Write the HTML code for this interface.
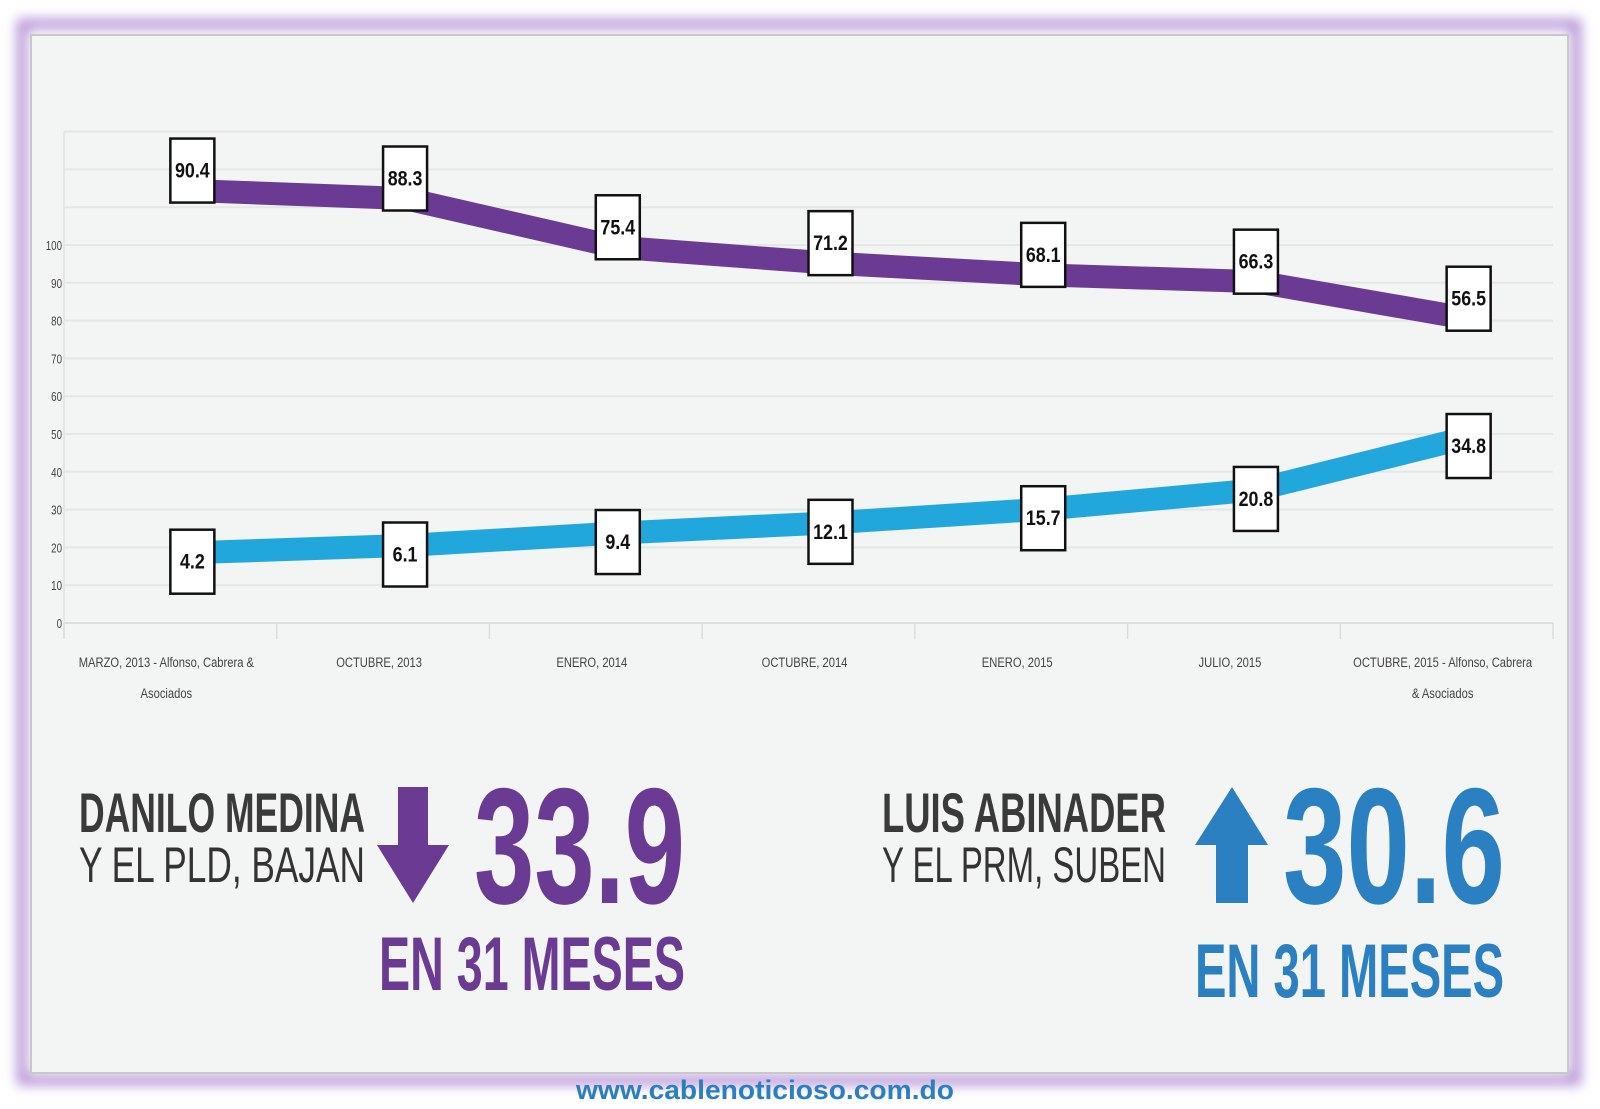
<!DOCTYPE html>
<html><head><meta charset="utf-8"><style>
html,body{margin:0;padding:0;background:#fff;}
svg{display:block;}
text{font-family:"Liberation Sans",sans-serif;}
</style></head><body>
<svg id="chart" width="1600" height="1109" viewBox="0 0 1600 1109">
<defs>
<filter id="glow" x="-5%" y="-5%" width="110%" height="110%"><feGaussianBlur stdDeviation="6"/></filter>
</defs>
<rect x="22" y="24" width="1554" height="1056" fill="none" stroke="#b48fd6" stroke-width="10" filter="url(#glow)"/>
<rect x="31" y="35" width="1537" height="1038" fill="#f3f4f4" stroke="#c8c8c8" stroke-width="2"/>
<g id="grid"></g>
<g id="yticks"></g>
<g id="xticks"></g>
<g id="series"></g>
<g id="labels"></g>

<g>
<text x="79" y="832" font-size="56" font-weight="bold" fill="#3a3a3a" textLength="286" lengthAdjust="spacingAndGlyphs">DANILO MEDINA</text>
<text x="79" y="882" font-size="50" fill="#333" textLength="286" lengthAdjust="spacingAndGlyphs">Y EL PLD, BAJAN</text>
<path d="M398 787 H428 V845 H449 L413 903 L377 845 H398 Z" fill="#6b3a93"/>
<text x="474" y="903" font-size="165" font-weight="bold" fill="#6b3a93" textLength="211" lengthAdjust="spacingAndGlyphs">33.9</text>
<text x="379" y="990" font-size="76" font-weight="bold" fill="#6b3a93" textLength="306" lengthAdjust="spacingAndGlyphs">EN 31 MESES</text>
</g>
<g>
<text x="882" y="832" font-size="56" font-weight="bold" fill="#3a3a3a" textLength="284" lengthAdjust="spacingAndGlyphs">LUIS ABINADER</text>
<text x="882" y="882" font-size="50" fill="#333" textLength="284" lengthAdjust="spacingAndGlyphs">Y EL PRM, SUBEN</text>
<path d="M1216 903 H1248 V845 H1268 L1232 787 L1195 845 H1216 Z" fill="#2a80c0"/>
<text x="1283" y="903" font-size="165" font-weight="bold" fill="#2a80c0" textLength="222" lengthAdjust="spacingAndGlyphs">30.6</text>
<text x="1195" y="997" font-size="76" font-weight="bold" fill="#2a80c0" textLength="309" lengthAdjust="spacingAndGlyphs">EN 31 MESES</text>
</g>
<text x="576" y="1099" font-size="27" font-weight="bold" fill="#2a7fc0" textLength="378" lengthAdjust="spacingAndGlyphs">www.cablenoticioso.com.do</text>
</svg>
<script>
const categories = [["MARZO, 2013 - Alfonso, Cabrera &","Asociados"],["OCTUBRE, 2013"],["ENERO, 2014"],["OCTUBRE, 2014"],["ENERO, 2015"],["JULIO, 2015"],["OCTUBRE, 2015 - Alfonso, Cabrera","& Asociados"]];
const daniloValues = [90.4, 88.3, 75.4, 71.2, 68.1, 66.3, 56.5];
const luisValues = [4.2, 6.1, 9.4, 12.1, 15.7, 20.8, 34.8];
const yTickLabels = [0,10,20,30,40,50,60,70,80,90,100];
const gridValues = [0,10,20,30,40,50,60,70,80,90,100,110,120,130];

const NS = "http://www.w3.org/2000/svg";
const L = 64, R = 1553, Y0 = 623, PX = 3.78;
const band = (R - L) / categories.length;
function xPos(i){ return L + band*(i+0.5) + 22; }
function yPos(v){ return Y0 - v*PX; }
function mk(tag, attrs, parent){ const e=document.createElementNS(NS,tag); for(const k in attrs) e.setAttribute(k,attrs[k]); parent.appendChild(e); return e; }

const grid=document.getElementById('grid');
gridValues.forEach(v=>{
  const l=mk('line',{x1:L,x2:R,y1:yPos(v),y2:yPos(v),stroke:v===0?'#dedede':'#e5e6e6','stroke-width':2},grid);
  
  
});
mk('line',{x1:L,x2:L,y1:yPos(130),y2:Y0+12,stroke:'#e2e2e2','stroke-width':1.5},grid);
const yt=document.getElementById('yticks');
yTickLabels.forEach(v=>{
  const t=mk('text',{x:0,y:0,'font-size':13,fill:'#444','text-anchor':'end',transform:'translate(62,'+(yPos(v)+5)+') scale(0.75,1)'},yt);
  t.textContent=v;
  
  
});
const xt=document.getElementById('xticks');
for(let i=0;i<=categories.length;i++){
  const x=L+band*i;
  mk('line',{x1:x,x2:x,y1:Y0,y2:Y0+16,stroke:'#dcdcdc','stroke-width':1.5},xt);
}
categories.forEach((c,i)=>{
  c.forEach((line,j)=>{
    const t=mk('text',{x:0,y:0,'font-size':14,fill:'#444','text-anchor':'middle',transform:'translate('+(L+band*(i+0.5)-4)+','+(667+j*31)+') scale(0.8,1)'},xt);
    t.textContent=line;
    
    
  });
});

const series=document.getElementById('series'), labels=document.getElementById('labels');
function drawSeries(vals, offset, color, name, boxShift){
  const pts=vals.map((v,i)=>xPos(i)+','+yPos(v+offset)).join(' ');
  const p=mk('polyline',{points:pts,fill:'none',stroke:color,'stroke-width':23,'stroke-linejoin':'round'},series);
  
  
  vals.forEach((v,i)=>{
    const cx=xPos(i), cy=yPos(v+offset)+boxShift;
    const r=mk('rect',{x:cx-22,y:cy-32,width:44,height:64,fill:'#fff',stroke:'#111','stroke-width':2.5},labels);
    
    
    const t=mk('text',{x:0,y:0,'font-size':21,'font-weight':'bold',fill:'#111','text-anchor':'middle',transform:'translate('+cx+','+(cy+7)+') scale(0.85,1)'},labels);
    t.textContent=v.toFixed(1);
    
    
  });
}
drawSeries(daniloValues, 24, '#6b3a93', 'danilo', -20);
drawSeries(luisValues, 14.4, '#22a7dc', 'luis', 9);
</script>
</body></html>
